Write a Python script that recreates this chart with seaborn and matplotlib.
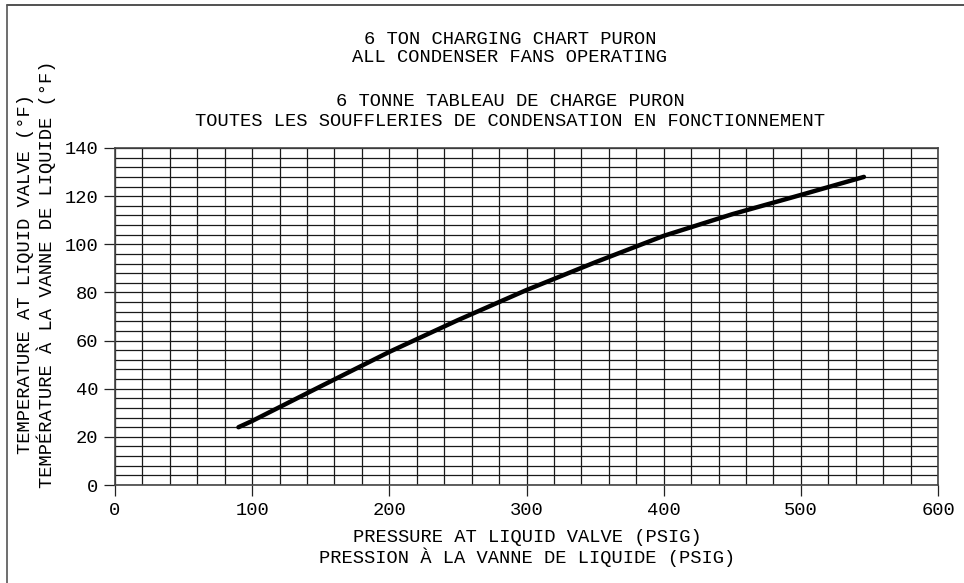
import numpy as np
import pandas as pd
import seaborn as sns
import matplotlib.pyplot as plt

# values
pressure = [90, 100, 150, 200, 250, 300, 350, 400, 450, 500, 546]
temperature = [24, 26.6, 41, 55.3, 68.5, 81, 92.5, 103.5, 112.5, 120.5, 128]

title_en = ["6 TON CHARGING CHART PURON", "ALL CONDENSER FANS OPERATING"]
title_fr = ["6 TONNE TABLEAU DE CHARGE PURON",
            "TOUTES LES SOUFFLERIES DE CONDENSATION EN FONCTIONNEMENT"]
xlabel_lines = ["PRESSURE AT LIQUID VALVE (PSIG)", "PRESSION À LA VANNE DE LIQUIDE (PSIG)"]
ylabel_lines = ["TEMPERATURE AT LIQUID VALVE (°F)", "TEMPÉRATURE À LA VANNE DE LIQUIDE (°F)"]

sns.set_style("white")
plt.rcParams["font.family"] = ["Liberation Mono", "DejaVu Sans Mono"]
plt.rcParams["text.color"] = "black"
plt.rcParams["xtick.color"] = "black"
plt.rcParams["ytick.color"] = "black"

FS = 13.5
W, H = 964, 583

df = pd.DataFrame({"pressure": pressure, "temperature": temperature})

fig = plt.figure(figsize=(W / 100, H / 100), dpi=100)
ax = fig.add_axes([115 / W, 1 - 485 / H, 823 / W, 337 / H])

sns.lineplot(data=df, x="pressure", y="temperature", ax=ax, color="black", linewidth=3.2,
             solid_capstyle="round", zorder=3)

ax.set_xlim(0, 600)
ax.set_ylim(0, 140)
ax.set_xticks(np.arange(0, 601, 100))
ax.set_yticks(np.arange(0, 141, 20))
ax.set_xticks(np.arange(0, 601, 20), minor=True)
ax.set_yticks(np.arange(0, 141, 4), minor=True)
ax.grid(which="both", color="#1a1a1a", linewidth=0.9)
ax.tick_params(which="major", direction="out", length=8, width=0.9, color="#222222",
               labelsize=FS, pad=4, bottom=True, left=True)
ax.tick_params(which="minor", length=0)
for s in ax.spines.values():
    s.set_color("#444444")
    s.set_linewidth(1.2)
ax.set_xlabel("")
ax.set_ylabel("")


def px(x, y):
    return x / W, 1 - y / H


for txt, y in zip(title_en + title_fr, [39, 58, 102, 121]):
    fig.text(*px(510, y), txt, ha="center", va="center", fontsize=FS)
for txt, y in zip(xlabel_lines, [538, 557]):
    fig.text(*px(527, y), txt, ha="center", va="center", fontsize=FS)
for txt, x in zip(ylabel_lines, [26, 46]):
    fig.text(*px(x, 274), txt, ha="center", va="center", rotation=90, fontsize=FS)

# drawing frame (top and left edges visible)
fig.add_artist(plt.Line2D([7 / W, 1.0], [1 - 5 / H, 1 - 5 / H], color="#333333", lw=1.2))
fig.add_artist(plt.Line2D([7 / W, 7 / W], [0.0, 1 - 5 / H], color="#555555", lw=1.2))

fig.savefig("out.png", dpi=100)
